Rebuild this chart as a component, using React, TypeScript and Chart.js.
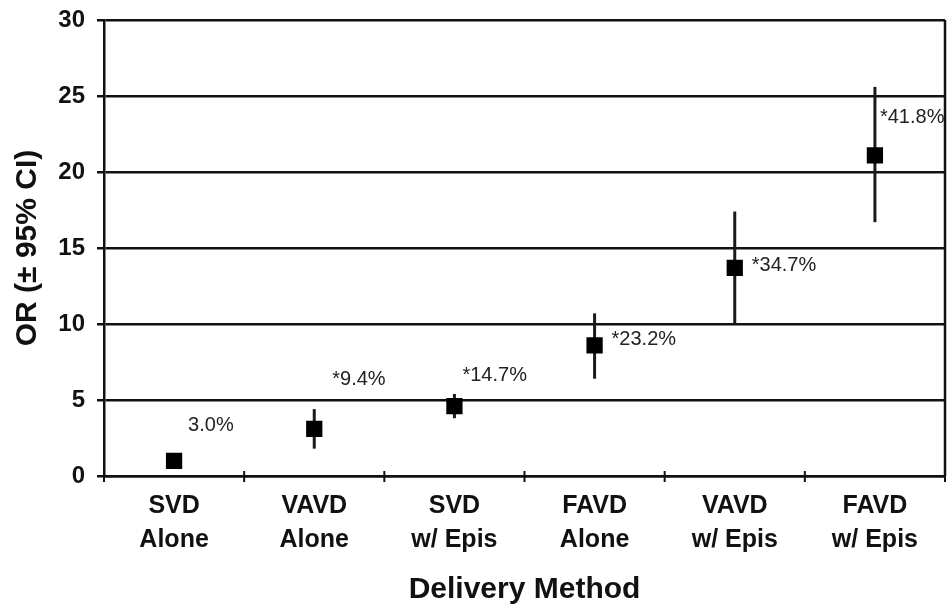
import React, { useEffect, useRef } from "react";
import { Chart, registerables } from "chart.js";

Chart.register(...registerables);

const categories: string[][] = [
  ["SVD", "Alone"],
  ["VAVD", "Alone"],
  ["SVD", "w/ Epis"],
  ["FAVD", "Alone"],
  ["VAVD", "w/ Epis"],
  ["FAVD", "w/ Epis"],
];
const oddsRatio = [1.0, 3.1, 4.6, 8.6, 13.7, 21.1];
const ciLow = [1.0, 1.8, 3.8, 6.4, 10.0, 16.7];
const ciHigh = [1.0, 4.4, 5.4, 10.7, 17.4, 25.6];
const pctLabels = ["3.0%", "*9.4%", "*14.7%", "*23.2%", "*34.7%", "*41.8%"];
const yTicks = [0, 5, 10, 15, 20, 25, 30];

// label placement offsets (pixels, relative to marker centre)
const labelDx = [14, 18, 8, 17, 17, 5];
const labelDy = [-35, -49, -31, -6, -2, -38];

const FONT = "'Liberation Sans', Arial, Helvetica, sans-serif";

const overlayPlugin = {
  id: "overlay",
  beforeDatasetsDraw(chart: any) {
    const ctx = chart.ctx;
    const x = chart.scales.x;
    const y = chart.scales.y;
    ctx.save();
    ctx.strokeStyle = "#1a1a1a";
    ctx.lineWidth = 3;
    for (let i = 0; i < oddsRatio.length; i++) {
      if (ciHigh[i] === ciLow[i]) continue;
      const px = x.getPixelForValue(i);
      ctx.beginPath();
      ctx.moveTo(px, y.getPixelForValue(ciLow[i]));
      ctx.lineTo(px, y.getPixelForValue(ciHigh[i]));
      ctx.stroke();
    }
    ctx.restore();
  },
  afterDraw(chart: any) {
    const ctx = chart.ctx;
    const x = chart.scales.x;
    const y = chart.scales.y;
    const area = chart.chartArea;
    ctx.save();
    ctx.strokeStyle = "#111";
    ctx.lineWidth = 2.5;
    ctx.beginPath();
    ctx.moveTo(area.right, area.top);
    ctx.lineTo(area.right, area.bottom);
    ctx.stroke();
    ctx.lineWidth = 2;
    for (let i = -1; i < categories.length; i++) {
      const bx = (x.getPixelForValue(i) + x.getPixelForValue(i + 1)) / 2;
      ctx.beginPath();
      ctx.moveTo(bx, area.bottom - 5);
      ctx.lineTo(bx, area.bottom + 6);
      ctx.stroke();
    }
    ctx.fillStyle = "#222";
    ctx.font = `20px ${FONT}`;
    ctx.textAlign = "left";
    ctx.textBaseline = "middle";
    for (let i = 0; i < pctLabels.length; i++) {
      const px = x.getPixelForValue(i);
      const py = y.getPixelForValue(oddsRatio[i]);
      ctx.fillText(pctLabels[i], px + labelDx[i], py + labelDy[i]);
    }
    ctx.restore();
  },
};

export default function App() {
  const ref = useRef<HTMLCanvasElement>(null);
  useEffect(() => {
    if (!ref.current) return;
    const chart = new Chart(ref.current, {
      type: "line",
      data: {
        labels: categories,
        datasets: [
          {
            data: oddsRatio,
            showLine: false,
            pointStyle: "rect",
            pointRadius: 11.5,
            pointBorderWidth: 0,
            backgroundColor: "#000",
            borderColor: "#000",
          },
        ],
      },
      options: {
        animation: false,
        responsive: false,
        devicePixelRatio: 1,
        layout: { autoPadding: false, padding: { left: 0, right: 2, top: 20, bottom: 0 } },
        plugins: {
          legend: { display: false },
          tooltip: { enabled: false },
        },
        scales: {
          x: {
            type: "category",
            offset: true,
            grid: { display: false },
            border: { display: true, color: "#111", width: 2.5 },
            ticks: {
              color: "#111",
              font: { family: FONT, size: 25, weight: "bold", lineHeight: 1.36 },
              padding: 5,
              maxRotation: 0,
              autoSkip: false,
            },
            title: {
              display: true,
              text: "Delivery Method",
              color: "#111",
              font: { family: FONT, size: 30, weight: "bold", lineHeight: 1 },
              padding: { top: 0, bottom: 0 },
            },
            afterFit: (s: any) => {
              s.height = 129;
              s.paddingLeft = 0;
              s.paddingRight = 0;
            },
          },
          y: {
            min: 0,
            max: 30,
            afterBuildTicks: (s: any) => {
              s.ticks = yTicks.map((v) => ({ value: v }));
            },
            grid: {
              color: "#111",
              lineWidth: 2.5,
              drawTicks: true,
              tickLength: 7,
              tickColor: "#111",
            },
            border: { display: true, color: "#111", width: 2.5 },
            ticks: {
              color: "#111",
              font: { family: FONT, size: 24, weight: "bold" },
              padding: 12,
            },
            title: {
              display: true,
              text: "OR (± 95% CI)",
              color: "#111",
              font: { family: FONT, size: 30, weight: "bold", lineHeight: 1.2 },
              padding: { top: 10, bottom: 0 },
            },
            afterFit: (s: any) => {
              s.width = 104;
              s.paddingTop = 0;
              s.paddingBottom = 0;
            },
          },
        },
      },
      plugins: [overlayPlugin],
    });
    return () => chart.destroy();
  }, []);
  return (
    <div style={{ position: "fixed", left: 0, top: 0, width: 947, height: 605, background: "#fff" }}>
      <canvas ref={ref} width={947} height={605} style={{ display: "block" }} />
    </div>
  );
}
